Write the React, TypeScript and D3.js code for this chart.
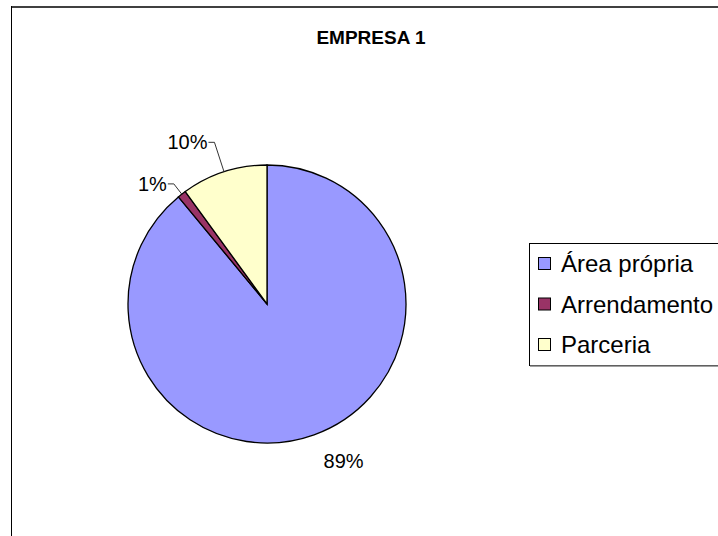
import { useMemo } from 'react';
import * as d3 from 'd3';

const title = 'EMPRESA 1';
const categories = ['Área própria', 'Arrendamento', 'Parceria'];
const shares = [89, 1, 10];
const shareLabels = ['89%', '1%', '10%'];
const sliceColors = ['#9999FF', '#993366', '#FFFFCC'];

const W = 718;
const H = 536;
const FONT = '"Liberation Sans", Arial, sans-serif';

// radial distance of each label anchor beyond the rim (layout only)
const labelReach: Record<string, number> = { 'Área própria': 28, Arrendamento: 13, Parceria: 31 };

export default function App() {
  const cx = 267;
  const cy = 304;
  const r = 139;

  const arcs = useMemo(() => d3.pie<number>().sort(null)(shares), []);
  const arcGen = d3.arc<d3.PieArcDatum<number>>().innerRadius(0).outerRadius(r);
  const color = d3.scaleOrdinal<string, string>().domain(categories).range(sliceColors);

  const legendY = d3.scalePoint<string>().domain(categories).range([264, 345]);

  return (
    <svg
      width={W}
      height={H}
      style={{ position: 'absolute', left: 0, top: 0, display: 'block', background: '#fff' }}
      fontFamily={FONT}
    >
      {/* chart area frame */}
      <line x1={11} x2={W} y1={7} y2={7} stroke="#404040" strokeWidth={2} />
      <line x1={11.5} x2={11.5} y1={6} y2={H} stroke="#000" strokeWidth={1} />

      <text x={371} y={44} textAnchor="middle" fontSize={19} fontWeight="bold" fill="#000">
        {title}
      </text>

      <g transform={`translate(${cx},${cy})`}>
        {arcs.map((a, i) => (
          <path key={categories[i]} d={arcGen(a) ?? ''} fill={color(categories[i])} stroke="#000" strokeWidth={1.3} />
        ))}
        {arcs.map((a, i) => {
          const mid = (a.startAngle + a.endAngle) / 2;
          const sx = Math.sin(mid);
          const sy = -Math.cos(mid);
          const reach = r + labelReach[categories[i]];
          const ex = sx * reach;
          const ey = sy * reach;
          if (a.value >= 50) {
            return (
              <text key={i} x={ex} y={ey} dy="0.35em" textAnchor={sx >= 0 ? 'start' : 'end'} fontSize={20} fill="#000">
                {shareLabels[i]}
              </text>
            );
          }
          const hx = ex - 6;
          return (
            <g key={i}>
              <polyline
                points={`${sx * r},${sy * r} ${ex},${ey} ${hx},${ey}`}
                fill="none"
                stroke="#333"
                strokeWidth={1}
              />
              <text x={hx - 1} y={ey} dy="0.35em" textAnchor="end" fontSize={20} fill="#000">
                {shareLabels[i]}
              </text>
            </g>
          );
        })}
      </g>

      {/* legend */}
      <rect x={529.5} y={243.5} width={260} height={122} fill="#fff" stroke="#000" strokeWidth={1} />
      <line x1={530} x2={W} y1={366} y2={366} stroke="#808080" strokeWidth={1.5} />
      {categories.map((c) => (
        <g key={c}>
          <rect
            x={538.5}
            y={(legendY(c) ?? 0) - 6.5}
            width={12}
            height={12}
            fill={color(c)}
            stroke="#000"
            strokeWidth={1}
          />
          <text x={561} y={legendY(c) ?? 0} dy="0.35em" fontSize={24} fill="#000">
            {c}
          </text>
        </g>
      ))}
    </svg>
  );
}
